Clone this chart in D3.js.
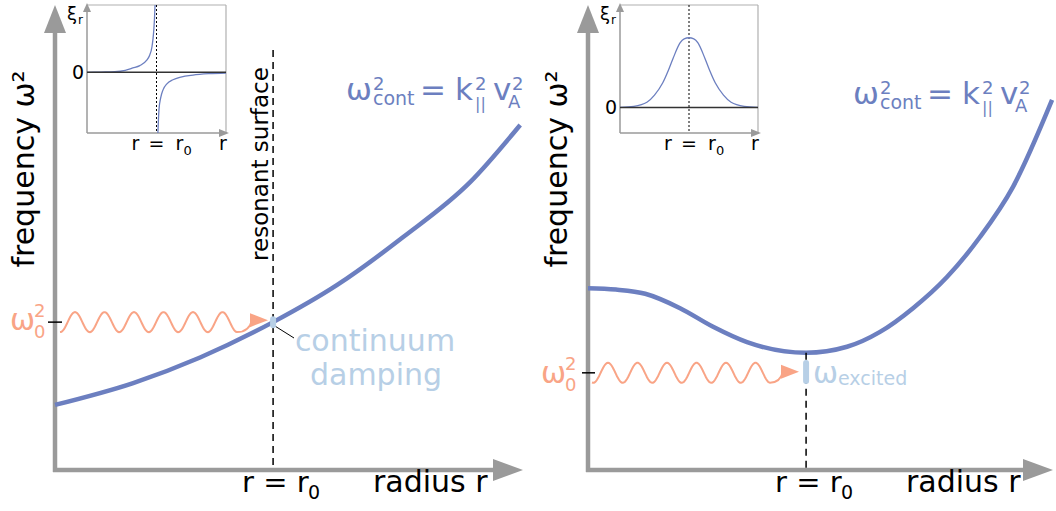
<!DOCTYPE html>
<html>
<head>
<meta charset="utf-8">
<script src="https://cdn.jsdelivr.net/npm/d3@7"></script>
<style>
body { margin: 0; background: #fff; }
text { font-family: "DejaVu Sans", sans-serif; }
</style>
</head>
<body>
<div id="fig"></div>
<script>
// continuum curves omega^2(r) (r and omega^2 in 0..10 units)
var leftR  = [0, 1.67, 3.10, 4.66, 6.03, 7.44, 8.87, 9.94];
var leftW2 = [1.40, 1.87, 2.42, 3.18, 3.98, 5.01, 6.19, 7.42];
var rightR  = [0, 0.6, 1.23, 1.98, 2.69, 3.42, 4.69, 5.57, 6.28, 6.99, 7.72, 8.43, 9.14, 9.98];
var rightW2 = [3.91, 3.88, 3.79, 3.48, 3.08, 2.75, 2.52, 2.65, 2.97, 3.48, 4.15, 5.01, 6.09, 7.96];
var r0Left = 4.66, r0Right = 4.69;
var w0Left = 3.18, w0Right = 2.09;

// insets: xi_r against r (r0 = 1)
var hypR1  = [0, 0.2, 0.4, 0.55, 0.66, 0.76, 0.86, 0.9, 0.935, 0.95, 0.964, 0.972, 0.978, 0.98];
var hypXi1 = [0, 0.005, 0.01, 0.03, 0.065, 0.1, 0.18, 0.25, 0.38, 0.5, 0.67, 0.82, 0.97, 1.0];
var hypR2  = [1.02, 1.028, 1.036, 1.06, 1.094, 1.15, 1.237, 1.35, 1.525, 1.75, 2];
var hypXi2 = [-0.9, -0.7, -0.55, -0.38, -0.26, -0.17, -0.11, -0.07, -0.04, -0.02, -0.01];
var gaussR  = [0, 0.2, 0.39, 0.5, 0.62, 0.7, 0.77, 0.87, 0.93, 1, 1.07, 1.13, 1.23, 1.3, 1.38, 1.5, 1.61, 1.8, 2];
var gaussXi = [0, 0.01, 0.05, 0.12, 0.24, 0.36, 0.48, 0.63, 0.67, 0.68, 0.67, 0.63, 0.48, 0.36, 0.24, 0.12, 0.05, 0.01, 0];

var blue = "#6c7fc0", light = "#b7cfe6", salmon = "#f9a486", gray = "#9a9a9a";

var svg = d3.select("#fig").append("svg")
  .attr("width", 1056)
  .attr("height", 511);

var yMain = d3.scaleLinear().domain([0, 10]).range([470, 5]);
var xLeft = d3.scaleLinear().domain([0, 10]).range([55, 523]);
var xRight = d3.scaleLinear().domain([0, 10]).range([588, 1053]);

function zip(a, b) { return a.map(function (v, i) { return [v, b[i]]; }); }

function txt(x, y, s, size, color, anchor) {
  return svg.append("text")
    .attr("x", x).attr("y", y)
    .attr("font-size", size)
    .attr("fill", color || "#000")
    .attr("text-anchor", anchor || "start")
    .text(s);
}

function axes(x) {
  var x0 = x.range()[0], x1 = x.range()[1];
  var y0 = yMain.range()[0], y1 = yMain.range()[1];
  svg.append("line")
    .attr("x1", x0).attr("y1", y0 + 2).attr("x2", x0).attr("y2", y1 + 24)
    .attr("stroke", gray).attr("stroke-width", 4.5);
  svg.append("path")
    .attr("d", "M" + x0 + "," + y1 + "L" + (x0 - 11) + "," + (y1 + 28) + "L" + (x0 + 11) + "," + (y1 + 28) + "Z")
    .attr("fill", gray);
  svg.append("line")
    .attr("x1", x0 - 2).attr("y1", y0).attr("x2", x1 - 24).attr("y2", y0)
    .attr("stroke", gray).attr("stroke-width", 4.5);
  svg.append("path")
    .attr("d", "M" + x1 + "," + y0 + "L" + (x1 - 30) + "," + (y0 - 11) + "L" + (x1 - 30) + "," + (y0 + 11) + "Z")
    .attr("fill", gray);

  // y label
  svg.append("text")
    .attr("transform", "translate(" + (x0 - 21) + ",169) rotate(-90)")
    .attr("text-anchor", "middle")
    .attr("font-size", 30)
    .text("frequency ω²");
}

function curve(x, rs, ws) {
  var line = d3.line()
    .x(function (d) { return x(d[0]); })
    .y(function (d) { return yMain(d[1]); })
    .curve(d3.curveMonotoneX);
  svg.append("path")
    .attr("d", line(zip(rs, ws)))
    .attr("fill", "none")
    .attr("stroke", blue)
    .attr("stroke-width", 4.5);
}

function formula(x, y) {
  txt(x - 2, y, "ω", 31, blue);
  txt(x + 25, y - 10, "2", 18, blue);
  txt(x + 25, y + 5, "cont", 19, blue);
  txt(x + 72, y, "=", 31, blue);
  txt(x + 107, y, "k", 31, blue);
  txt(x + 127, y - 10, "2", 18, blue);
  txt(x + 127, y + 9, "||", 16, blue);
  txt(x + 145, y, "v", 31, blue);
  txt(x + 160, y + 8, "A", 18, blue);
  txt(x + 164, y - 10, "2", 18, blue);
}

function omega0(x, y) {
  txt(x, y, "ω", 30, salmon);
  txt(x + 24, y - 13, "2", 18, salmon);
  txt(x + 24, y + 8, "0", 18, salmon);
}

function wave(xs, firstPeak, yc, tipX, tipY) {
  var P = 29.5, A = 10;
  var last = firstPeak + 5.5 * P;
  var pts = d3.range(xs, last + 0.5, 1).map(function (xx) {
    return [xx, yc - A * Math.cos(2 * Math.PI * (xx - firstPeak) / P)];
  });
  var d = d3.line()(pts) + "Q" + (tipX - 19) + "," + (yc + A) + " " + (tipX - 16) + "," + tipY;
  svg.append("path").attr("d", d)
    .attr("fill", "none").attr("stroke", salmon).attr("stroke-width", 2);
  svg.append("path")
    .attr("d", "M" + tipX + "," + tipY + "L" + (tipX - 18) + "," + (tipY - 7) + "L" + (tipX - 18) + "," + (tipY + 7) + "Z")
    .attr("fill", salmon);
}

function bottomLabels(x, r0, radiusX) {
  var cx = x(r0);
  txt(cx - 31, 492, "r = r", 29);
  txt(cx + 35, 499, "0", 19);
  txt(radiusX, 492, "radius r", 30);
}

function inset(x0, x1, yDom, series) {
  var ix = d3.scaleLinear().domain([0, 2]).range([x0, x1]);
  var iy = d3.scaleLinear().domain(yDom).range([133, 5]);
  var g = svg.append("g");
  g.append("line").attr("x1", x0).attr("y1", 5).attr("x2", x1).attr("y2", 5)
    .attr("stroke", "#b0b0b0").attr("stroke-width", 1.2);
  g.append("line").attr("x1", x1).attr("y1", 5).attr("x2", x1).attr("y2", 133)
    .attr("stroke", "#b0b0b0").attr("stroke-width", 1.2);
  g.append("line").attr("x1", x0).attr("y1", 133).attr("x2", x0).attr("y2", 8)
    .attr("stroke", gray).attr("stroke-width", 1.5);
  g.append("line").attr("x1", x0).attr("y1", 133).attr("x2", x1 - 4).attr("y2", 133)
    .attr("stroke", gray).attr("stroke-width", 1.5);
  g.append("path").attr("d", "M" + x0 + ",3L" + (x0 - 4) + ",12L" + (x0 + 4) + ",12Z").attr("fill", gray);
  g.append("path").attr("d", "M" + (x1 + 3) + ",133L" + (x1 - 7) + ",129L" + (x1 - 7) + ",137Z").attr("fill", gray);

  g.append("line").attr("x1", ix(1)).attr("y1", 5).attr("x2", ix(1)).attr("y2", 133)
    .attr("stroke", "#000").attr("stroke-width", 1).attr("stroke-dasharray", "2,2");

  var line = d3.line()
    .x(function (d) { return ix(d[0]); })
    .y(function (d) { return iy(d[1]); })
    .curve(d3.curveMonotoneX);
  series.forEach(function (s) {
    g.append("path").attr("d", line(s))
      .attr("fill", "none").attr("stroke", blue).attr("stroke-width", 1.3);
  });
  g.append("line").attr("x1", x0).attr("y1", iy(0)).attr("x2", x1).attr("y2", iy(0))
    .attr("stroke", "#333").attr("stroke-width", 1.5);

  txt(x0 - 20, 20, "ξ", 18);
  txt(x0 - 9, 24, "r", 12);
  txt(x0 - 3, iy(0) + 7, "0", 19, "#000", "end");
  var c = ix(1);
  txt(c - 25, 150, "r", 19);
  txt(c - 8, 150, "=", 19);
  txt(c + 19, 150, "r", 19);
  txt(c + 27, 155, "0", 13);
  txt(x1 - 7, 150, "r", 19);
}

// ---------- left panel: continuum damping ----------
inset(87, 226, [-0.9, 1], [zip(hypR1, hypXi1), zip(hypR2, hypXi2)]);
axes(xLeft);

svg.append("line")
  .attr("x1", xLeft(r0Left)).attr("y1", 50).attr("x2", xLeft(r0Left)).attr("y2", 470)
  .attr("stroke", "#000").attr("stroke-width", 1.5).attr("stroke-dasharray", "7,5");
svg.append("text")
  .attr("transform", "translate(" + (xLeft(r0Left) - 5) + ",164) rotate(-90)")
  .attr("text-anchor", "middle")
  .attr("font-size", 23)
  .text("resonant surface");

curve(xLeft, leftR, leftW2);
formula(348, 100);

svg.append("line")
  .attr("x1", 48).attr("y1", yMain(w0Left)).attr("x2", 62).attr("y2", yMain(w0Left))
  .attr("stroke", "#000").attr("stroke-width", 1.5);
wave(60, 75, yMain(w0Left), 268, yMain(w0Left) - 2);
omega0(10, yMain(w0Left) + 8);

svg.append("line")
  .attr("x1", xLeft(r0Left) + 2).attr("y1", yMain(w0Left) + 4).attr("x2", 294).attr("y2", 338)
  .attr("stroke", "#000").attr("stroke-width", 1);
svg.append("rect")
  .attr("x", xLeft(r0Left) - 3).attr("y", yMain(w0Left) - 6)
  .attr("width", 6).attr("height", 12).attr("rx", 3)
  .attr("fill", light);
txt(375, 351, "continuum", 30, light, "middle");
txt(376, 385, "damping", 30, light, "middle");

bottomLabels(xLeft, r0Left, 373);

// ---------- right panel: excited mode at continuum minimum ----------
inset(620, 758, [-0.25, 1], [zip(gaussR, gaussXi)]);
axes(xRight);
curve(xRight, rightR, rightW2);
formula(855, 104);

var minW = d3.min(rightW2);
svg.append("line")
  .attr("x1", xRight(r0Right)).attr("y1", yMain(minW)).attr("x2", xRight(r0Right)).attr("y2", 470)
  .attr("stroke", "#000").attr("stroke-width", 1.5).attr("stroke-dasharray", "7,5");

svg.append("line")
  .attr("x1", 582).attr("y1", yMain(w0Right)).attr("x2", 595).attr("y2", yMain(w0Right))
  .attr("stroke", "#000").attr("stroke-width", 1.5);
wave(592, 608, yMain(w0Right), 799, yMain(w0Right) - 1);
omega0(541, yMain(w0Right) + 10);

svg.append("rect")
  .attr("x", xRight(r0Right) - 3).attr("y", 360)
  .attr("width", 6).attr("height", 24).attr("rx", 3)
  .attr("fill", light);
txt(813, 383, "ω", 30, light);
txt(838, 385, "excited", 19, light);

bottomLabels(xRight, r0Right, 906);
</script>
</body>
</html>
